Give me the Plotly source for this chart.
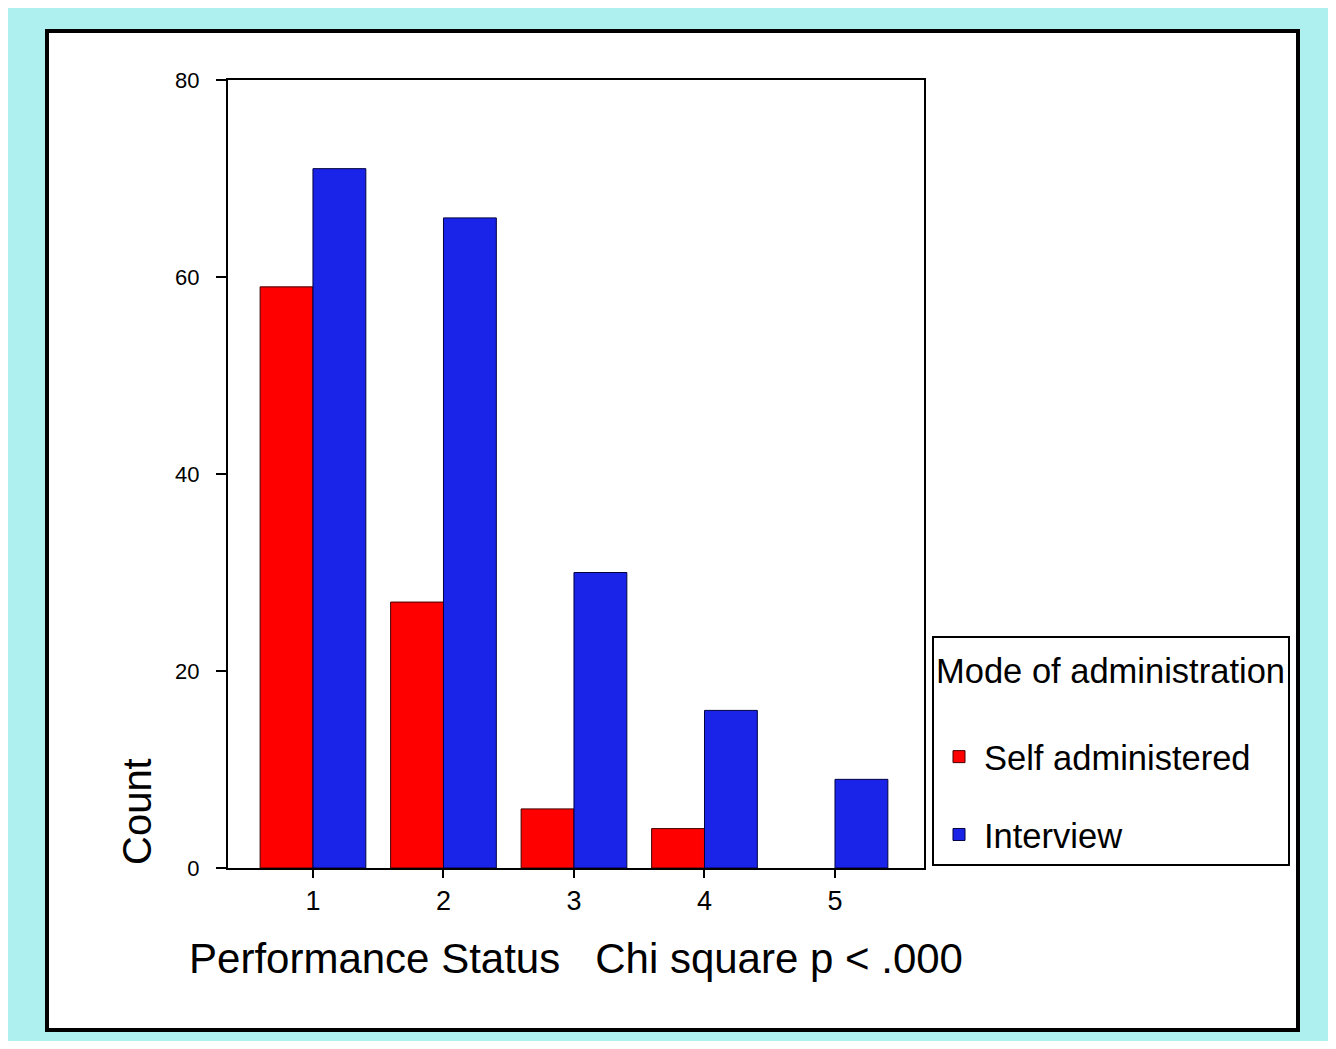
import plotly.graph_objects as go

categories = [1, 2, 3, 4, 5]
tick_labels = ["1", "2", "3", "4", "5"]
self_administered = [59, 27, 6, 4, 0]
interview = [71, 66, 30, 16, 9]
y_ticks = [0, 20, 40, 60, 80]

FONT = "Liberation Sans, Arial, sans-serif"
RED = "#ff0000"
BLUE = "#1a24e8"

def outline(values):
    return [1 if v > 0 else 0 for v in values]

fig = go.Figure()
fig.add_trace(go.Bar(x=categories, y=self_administered, name="Self administered",
                     legendgroup="self",
                     marker=dict(color=RED, line=dict(color="#400000",
                                                      width=outline(self_administered)))))
fig.add_trace(go.Bar(x=categories, y=interview, name="Interview",
                     legendgroup="interview",
                     marker=dict(color=BLUE, line=dict(color="#000040",
                                                       width=outline(interview)))))

# page has an 8px body margin; targets below are in screen pixels
OFF = 8
W, H = 1320, 1033
L, R, T, B = 228 - OFF, 924 - OFF, 80 - OFF, 868 - OFF
pw, ph = R - L, B - T

def px(sx):
    return (sx - OFF - L) / pw

def py(sy):
    return (B - (sy - OFF)) / ph

fig.update_layout(
    width=W, height=H,
    margin=dict(l=L, r=W - R, t=T, b=H - B),
    paper_bgcolor="#aef0f0",
    plot_bgcolor="white",
    barmode="group", bargap=0.19, bargroupgap=0,
    font=dict(family=FONT, color="black"),
    xaxis=dict(range=[0.349, 5.682], tickmode="array", tickvals=categories, ticktext=tick_labels,
               showline=True, linecolor="black", linewidth=2, mirror=True,
               ticks="outside", ticklen=8, tickwidth=1.5, tickcolor="black",
               tickfont=dict(size=27), showgrid=False, zeroline=False,
               title=dict(text="Performance Status   Chi square p < .000",
                          font=dict(size=42), standoff=28)),
    yaxis=dict(range=[0, 80], tickmode="array", tickvals=y_ticks,
               showline=True, linecolor="black", linewidth=2, mirror=True,
               ticks="outside", ticklen=10, tickwidth=1.5, tickcolor="black",
               tickfont=dict(size=22), ticklabelstandoff=12,
               showgrid=False, zeroline=False),
    legend=dict(title=dict(text="Mode of administration<br> ", font=dict(size=34.5)),
                font=dict(size=34.5), x=px(932), y=py(636), xanchor="left", yanchor="top",
                bordercolor="black", borderwidth=2, bgcolor="white",
                tracegroupgap=30, itemwidth=40, traceorder="grouped"),
    shapes=[dict(type="rect", xref="paper", yref="paper",
                 x0=px(47), x1=px(1298), y0=py(1030), y1=py(31),
                 fillcolor="white", line=dict(color="black", width=4), layer="below")],
    annotations=[dict(text="Count", xref="paper", yref="paper", x=px(137), y=py(812),
                      textangle=-90, showarrow=False, font=dict(size=40),
                      xanchor="center", yanchor="middle")],
)

fig.write_html("out.html")
